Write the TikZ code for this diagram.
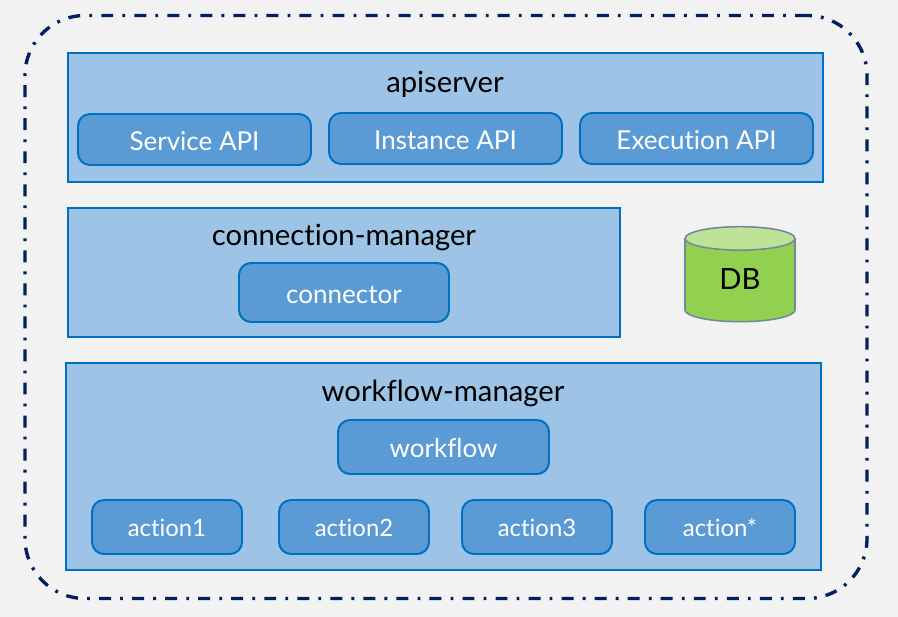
\documentclass[tikz,border=0pt]{standalone}
\usepackage{fontspec}
\setmainfont{Lato}[Ligatures=NoCommon]
\usepackage{xcolor}
\usetikzlibrary{shapes.geometric}
\definecolor{pagecol}{RGB}{242,242,242}
\definecolor{layercol}{RGB}{157,195,230}
\definecolor{compcol}{RGB}{91,155,213}
\definecolor{edgecol}{RGB}{0,112,192}
\definecolor{outercol}{RGB}{0,32,96}
\definecolor{dbcol}{RGB}{146,208,80}
\definecolor{dbtopcol}{RGB}{190,227,150}
\definecolor{dbedgecol}{RGB}{112,138,156}

\begin{document}
\begin{tikzpicture}[
    layer/.style={draw=edgecol, fill=layercol, line width=1.4pt, minimum width=18.875cm},
    comp/.style={draw=edgecol, fill=compcol, line width=1.4pt, rounded corners=0.3cm, text=white, text height=15pt, text depth=0pt, font=\fontsize{18.5}{21}\selectfont},
    api/.style={comp, minimum width=5.825cm, minimum height=1.275cm},
    action/.style={comp, minimum width=3.75cm, minimum height=1.35cm, text height=14pt, font=\fontsize{17}{20}\selectfont},
    lbl/.style={font=\fontsize{20.8}{24}\selectfont, text=black},
]
\useasboundingbox (0,0) rectangle (22.45,15.4);
\fill[pagecol] (-0.1,-0.1) rectangle (22.55,15.5);
\node[draw=outercol, line width=2.4pt, rounded corners=1.5cm, dash pattern=on 8.5pt off 6.5pt on 2pt off 6.5pt, minimum width=21.05cm, minimum height=14.575cm] (outer) at (11.15,7.725) {};

\node[layer, minimum height=3.225cm] (apiserver) at (11.1375,12.4625) {};
\node[lbl] (apiserverlbl) at (11.125,13.3) {apiserver};
\node[api] (service) at (4.8625,11.9125) {Service API};
\node[api] (instance) at (11.1375,11.9375) {Instance API};
\node[api] (execution) at (17.4125,11.9375) {Execution API};

\node[layer, minimum width=13.8cm, minimum height=3.225cm] (connmgr) at (8.6,8.5875) {};
\node[lbl] (connmgrlbl) at (8.6,9.45) {connection-manager};
\node[comp, minimum width=5.25cm, minimum height=1.475cm] (connector) at (8.6,8.0875) {connector};

\node[cylinder, shape border rotate=90, aspect=2.5, draw=dbedgecol, line width=1.1pt, cylinder uses custom fill, cylinder body fill=dbcol, cylinder end fill=dbtopcol, minimum width=2.75cm, minimum height=2.375cm] (db) at (18.5,8.33) {};
\node[lbl] (dblbl) at (18.5,8.42) {DB};

\node[layer, minimum height=5.175cm] (wfmgr) at (11.0875,3.7375) {};
\node[lbl] (wfmgrlbl) at (11.075,5.575) {workflow-manager};
\node[comp, minimum width=5.275cm, minimum height=1.35cm] (workflow) at (11.0875,4.225) {workflow};
\node[action] (action1) at (4.175,2.225) {action1};
\node[action] (action2) at (8.85,2.225) {action2};
\node[action] (action3) at (13.425,2.225) {action3};
\node[action] (actionx) at (18.0,2.225) {action*};
\end{tikzpicture}
\end{document}
